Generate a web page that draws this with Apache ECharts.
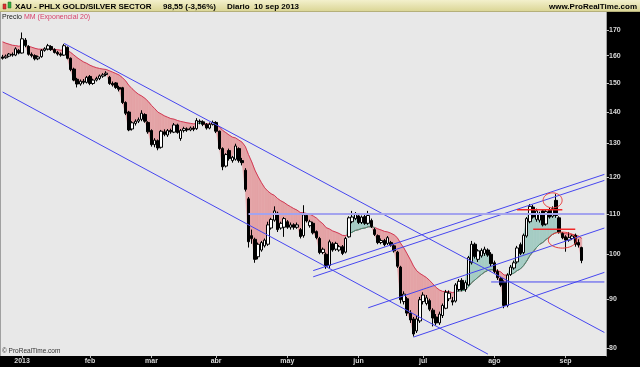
<!DOCTYPE html>
<html><head><meta charset="utf-8">
<script src="https://cdn.jsdelivr.net/npm/echarts@6/dist/echarts.min.js"></script>
<style>html,body{margin:0;padding:0;background:#000}#c{width:640px;height:367px}</style>
</head><body><div id="c"></div>
<script>
// ---------- data ----------
const startDate = '2012-12-21';
const endDate = '2013-09-10';
const holidays = ['2012-12-25','2013-01-01','2013-01-21','2013-02-18','2013-03-29','2013-05-27','2013-07-04','2013-09-02'];
const emptySlots = 7;
const monthNames = ['2013','feb','mar','abr','may','jun','jul','ago','sep','oct','nov','dic'];
const yTicks = [80,90,100,110,120,130,140,150,160,170];
const emaPeriod = 20;
const emaStart = 165.3;

// [open, close, low, high]
const dec12 = [[159.5,159.0,158.5,160.3],[159.2,159.8,158.8,160.4],[159.8,160.6,159.4,161.0],[160.5,160.2,159.6,161.2],[160.2,162.6,159.8,163.2],[162.0,161.0,160.5,162.5]];
const jan13 = [[161.0,166.5,160.8,169.0],[166.0,164.0,163.2,166.8],[163.5,160.5,160.0,164.0],[160.5,160.0,159.3,161.2],[160.0,158.8,158.2,160.5],[158.8,159.5,158.3,160.0],[159.6,162.0,159.2,162.5],[162.0,162.6,161.5,163.2],[162.5,163.8,162.0,164.5],[163.5,162.3,161.8,164.0],[162.3,161.2,160.8,162.8],[161.2,160.6,160.0,161.8],[160.6,160.2,159.6,161.2],[160.2,163.8,159.9,164.5],[163.2,159.0,158.6,163.5],[159.0,154.8,154.2,159.3],[155.0,151.0,150.6,155.5],[151.3,149.6,148.4,151.8],[149.6,150.6,149.0,151.2],[150.6,150.2,149.5,151.4],[150.2,152.0,149.8,152.5]];
const feb13 = [[152.3,149.8,149.2,152.8],[149.8,151.0,149.3,151.5],[151.0,151.6,150.5,152.2],[151.6,152.5,151.0,153.0],[152.4,152.9,151.8,153.5],[153.0,153.5,152.4,154.2],[152.0,149.8,149.3,152.5],[149.8,149.3,148.7,150.5],[150.0,148.4,147.9,150.3],[148.4,147.8,147.0,149.0],[148.3,143.2,142.7,148.6],[143.2,139.6,139.0,143.6],[140.0,134.2,133.8,140.4],[134.5,136.5,134.0,137.0],[136.3,137.0,135.6,137.6],[137.0,137.5,136.4,138.2],[137.6,139.6,137.0,140.6],[139.2,137.0,136.5,139.6],[136.6,133.6,133.0,137.0]];
const mar13 = [[134.0,129.6,129.0,134.4],[129.6,131.0,128.8,131.6],[130.8,128.6,127.9,131.2],[128.8,133.8,128.4,134.2],[133.6,132.8,132.2,134.4],[132.6,134.0,132.0,134.5],[134.0,133.6,133.0,134.6],[133.5,135.8,133.2,136.4],[135.8,133.4,133.0,136.2],[131.5,134.0,130.8,134.5],[134.0,134.6,133.4,135.2],[134.5,134.2,133.6,135.0],[134.2,134.8,133.8,135.3],[134.8,134.4,133.8,135.4],[134.6,137.2,134.2,138.0],[137.0,136.8,136.0,137.6],[136.8,136.0,135.4,137.3],[136.0,134.8,134.3,136.4],[134.8,136.0,134.4,136.6],[136.0,136.6,135.6,137.2]];
const apr13 = [[136.6,133.8,133.2,137.0],[133.8,128.4,128.0,134.0],[128.4,123.0,122.0,128.8],[123.2,126.6,122.8,127.0],[127.8,125.4,124.8,128.4],[124.8,125.8,124.2,126.2],[125.2,129.2,124.8,129.9],[128.4,124.8,124.2,128.8],[124.8,124.2,123.4,125.6],[122.0,116.6,116.0,122.6],[114.0,103.0,101.6,114.5],[104.5,103.8,102.5,106.0],[103.6,98.8,98.0,104.0],[99.4,102.4,98.8,102.8],[101.0,102.8,100.6,103.2],[102.0,103.4,101.6,103.8],[102.4,107.2,102.0,108.0],[106.4,108.6,106.0,109.0],[108.4,110.8,108.0,112.0],[110.2,106.0,105.4,110.6],[106.4,107.6,106.0,108.0],[106.6,108.8,104.2,109.2]];
const may13 = [[108.0,106.6,106.2,108.4],[106.6,107.2,106.0,107.8],[107.2,106.6,106.0,107.6],[106.6,107.2,106.2,107.8],[106.0,104.3,103.8,106.4],[104.5,109.8,104.0,112.3],[109.6,108.2,107.8,110.2],[107.0,108.0,106.5,108.5],[107.6,105.2,104.8,108.0],[105.5,104.0,103.6,105.8],[103.8,100.4,100.0,104.2],[100.4,101.2,100.0,101.6],[100.0,97.2,96.6,100.4],[97.4,103.0,96.8,103.5],[102.5,101.0,100.6,102.9],[101.2,102.6,100.8,103.0],[101.0,101.8,100.6,102.2],[101.8,100.2,99.8,102.2],[100.5,103.8,100.2,104.2],[104.2,109.0,104.0,109.4],[108.0,109.2,107.6,110.8],[108.8,110.0,108.4,110.5]];
const jun13 = [[109.5,107.8,107.4,110.2],[107.8,109.2,107.4,109.6],[109.3,107.6,107.2,109.8],[107.6,109.6,107.2,110.8],[108.3,106.8,106.4,108.8],[106.0,104.8,104.4,106.4],[104.5,102.8,102.4,104.8],[102.8,103.3,102.4,103.8],[103.3,102.3,101.9,103.7],[102.6,104.0,102.2,104.4],[102.8,102.2,101.8,103.2],[102.0,100.8,100.4,102.4],[100.5,97.2,96.8,100.8],[97.0,89.8,89.0,97.3],[89.4,91.0,88.8,91.6],[90.0,87.0,86.4,90.4],[87.0,85.6,85.0,87.6],[85.8,82.8,82.3,86.2],[83.4,85.8,83.0,86.4],[85.4,89.8,85.0,90.4]];
const jul13 = [[89.4,90.8,88.8,91.4],[89.0,90.2,88.6,90.8],[89.6,87.8,87.4,90.0],[87.6,86.0,84.3,88.0],[86.2,85.0,84.5,86.8],[85.0,86.8,84.6,87.3],[86.5,88.6,86.0,89.0],[88.0,91.4,87.8,91.9],[90.0,91.2,89.5,91.8],[89.6,89.3,88.6,90.4],[89.5,93.0,89.2,93.4],[92.0,93.8,91.6,94.3],[94.0,92.0,91.6,94.5],[92.0,93.5,91.5,94.0],[93.0,99.2,92.8,99.6],[98.0,102.4,97.6,103.2],[102.4,99.5,99.0,102.8],[98.8,100.8,98.2,101.2],[99.6,100.9,99.2,101.4],[100.2,101.2,99.6,101.8],[101.0,99.8,99.4,101.4],[100.0,97.8,97.2,100.5]];
const aug13 = [[98.0,96.0,95.6,98.5],[96.0,94.6,94.1,96.5],[94.4,93.0,92.6,94.8],[93.6,88.6,88.0,94.0],[88.6,95.2,88.2,95.6],[95.3,97.0,95.0,97.5],[96.8,98.0,96.4,98.5],[98.2,101.5,97.8,102.0],[102.3,100.2,99.8,102.8],[100.4,104.6,100.0,105.0],[104.4,108.8,104.0,109.2],[108.0,112.0,107.6,112.6],[111.8,109.2,108.8,112.4],[108.6,110.8,108.0,111.4],[108.4,110.0,107.8,110.6],[110.8,107.2,106.8,111.2],[107.4,110.6,107.0,111.2],[111.0,109.2,108.8,111.6],[109.4,111.4,109.0,112.0],[113.6,109.6,109.0,115.3],[109.0,105.4,105.0,109.4],[105.0,104.0,103.6,105.4]];
const sep13 = [[104.2,103.4,100.6,104.6],[103.4,104.0,103.0,105.4],[103.8,104.4,103.4,104.8],[104.6,102.4,101.8,105.0],[102.8,102.19,101.6,103.6],[101.6,98.55,97.9,101.8]];

// drawings: [categoryIndex, price]
const lineA = [[0,146.8],[150,78.95]];
const lineB = [[19,164.7],[186,83.1]];
const lineC1 = [[96,96.2],[186,120.8]];
const lineC2 = [[96,94.8],[186,119.1]];
const lineD = [[113,88.1],[186,106.4]];
const lineE = [[127,82.2],[186,95.8]];
const level94 = [[151,93.65],[186,93.65]];
const level110 = [[76,110.0],[186,110.0]];
const redLevel1 = [[159,111.1],[173,111.1]];
const redLevel2 = [[164,106.1],[177,106.1]];
const ellipseCenters = [[170,113.6],[173,103.4]];

// ---------- build ----------
const ohlc = [].concat(dec12,jan13,feb13,mar13,apr13,may13,jun13,jul13,aug13,sep13);
function tradingDays(){
  const out=[]; let t=Date.parse(startDate+'T00:00:00Z'); const end=Date.parse(endDate+'T00:00:00Z');
  while(t<=end){ const d=new Date(t); const wd=d.getUTCDay(); const s=d.toISOString().slice(0,10);
    if(wd!==0&&wd!==6&&holidays.indexOf(s)<0) out.push(s); t+=86400000; }
  return out;
}
const dates = tradingDays();
const cats = dates.slice();
for(let i=0;i<emptySlots;i++) cats.push('pad'+i);
const labelIdx = {};
for(let i=1;i<dates.length;i++){
  const m=+dates[i].slice(5,7), pm=+dates[i-1].slice(5,7);
  if(m!==pm) labelIdx[i]=monthNames[m-1];
}
const closes = ohlc.map(d=>d[1]);
const alpha = 2/(emaPeriod+1);
const ema=[]; ema[0]=emaStart;
for(let k=1;k<closes.length;k++) ema[k]=ema[k-1]+alpha*(closes[k]-ema[k-1]);
const up = closes.map((c,k)=>c>ema[k]);
const emaGreen = ema.map((v,k)=> (up[k]||(k>0&&up[k-1])) ? v : null);
const fillData=[];
for(let k=0;k<closes.length-1;k++) fillData.push([k,closes[k],closes[k+1],ema[k],ema[k+1]]);

const GREEN='#a5ccc4', RED='#e4a3a6';
function renderFill(params, api){
  const k=api.value(0);
  const c0=api.coord([k,api.value(1)]), c1=api.coord([k+1,api.value(2)]);
  const e0=api.coord([k,api.value(3)]), e1=api.coord([k+1,api.value(4)]);
  const d0=e0[1]-c0[1], d1=e1[1]-c1[1];
  const poly=(pts,col)=>({type:'polygon',shape:{points:pts},style:{fill:col,stroke:col,lineWidth:0.6}});
  if(d0*d1>=0){ return poly([c0,c1,e1,e0],(d0+d1)>0?GREEN:RED); }
  const t=d0/(d0-d1); const p=[c0[0]+t*(c1[0]-c0[0]), c0[1]+t*(c1[1]-c0[1])];
  return {type:'group',children:[poly([c0,p,e0],d0>0?GREEN:RED),poly([p,c1,e1],d1>0?GREEN:RED)]};
}
function renderEllipse(params, api){
  const c=api.coord([api.value(0),api.value(1)]);
  const rx = params.dataIndex===0?9.5:14, ry = params.dataIndex===0?7.5:8;
  const pts=[]; for(let i=0;i<48;i++){const a=i/48*Math.PI*2; pts.push([c[0]+rx*Math.cos(a), c[1]+ry*Math.sin(a)]);}
  return {type:'polygon',shape:{points:pts},style:{fill:'none',stroke:'#e83c3c',lineWidth:1}};
}
function mkLine(data,color,width,z){
  return {type:'line',data:data,symbol:'none',silent:true,clip:true,z:z,animation:false,
    lineStyle:{color:color,width:width}};
}
const showLabel=(i)=>labelIdx[i]!==undefined;

const chart = echarts.init(document.getElementById('c'),null,{renderer:'canvas'});
chart.setOption({
  animation:false,
  backgroundColor:'#000000',
  grid:{left:1,right:34,top:12,bottom:11,show:true,backgroundColor:'#e8e8e8',borderWidth:0},
  xAxis:{type:'category',data:cats,boundaryGap:true,
    axisLine:{show:false},
    axisTick:{show:true,alignWithLabel:true,interval:(i)=>showLabel(i),length:2,lineStyle:{color:'#bdbdbd'}},
    axisLabel:{interval:(i)=>showLabel(i),formatter:(v,i)=>labelIdx[i]||'',align:'center',margin:2,
      color:'#d8d8d8',fontSize:7,fontWeight:'bold',fontFamily:'Liberation Sans'},
    splitLine:{show:false}},
  yAxis:{type:'log',logBase:10,position:'right',min:78.6,max:177.4,
    axisLine:{show:true,lineStyle:{color:'#a0a0a0'}},
    axisTick:{show:true,length:3,customValues:yTicks,lineStyle:{color:'#c0c0c0'}},
    axisLabel:{customValues:yTicks,color:'#d8d8d8',fontSize:7,fontWeight:'bold',margin:3,fontFamily:'Liberation Sans'},
    splitLine:{show:false}},
  series:[
    {type:'custom',renderItem:renderFill,data:fillData,encode:{x:0,y:[1,2,3,4]},z:1,silent:true},
    {type:'line',data:ema,symbol:'none',z:2,silent:true,lineStyle:{color:'#d23a55',width:1}},
    {type:'line',data:emaGreen,symbol:'none',z:2,silent:true,connectNulls:false,lineStyle:{color:'#3a9a7a',width:1}},
    {type:'candlestick',data:ohlc,z:3,barWidth:3,silent:true,
      itemStyle:{color:'#ffffff',color0:'#000000',borderColor:'#000000',borderColor0:'#000000',borderWidth:1}},
    mkLine(lineA,'#4646f0',1,4),
    mkLine(lineB,'#4646f0',1,4),
    mkLine(lineC1,'#4646f0',1,4),
    mkLine(lineC2,'#4646f0',1,4),
    mkLine(lineD,'#4646f0',1,4),
    mkLine(lineE,'#4646f0',1,4),
    mkLine(level94,'#4646f0',1,4),
    mkLine(level110,'#a3a3ee',2,4),
    mkLine(redLevel1,'#f02828',1.5,5),
    mkLine(redLevel2,'#f02828',1.5,5),
    {type:'custom',renderItem:renderEllipse,data:ellipseCenters,encode:{x:0,y:1},z:6,silent:true}
  ],
  graphic:[
    {type:'rect',shape:{x:0,y:0,width:640,height:12},z:100,
      style:{fill:new echarts.graphic.LinearGradient(0,0,0,1,[{offset:0,color:'#f3f0cc'},{offset:1,color:'#d9d492'}])}},
    {type:'rect',shape:{x:0,y:11,width:640,height:1},z:101,style:{fill:'#b5b07a'}},
    {type:'rect',shape:{x:0,y:12,width:1,height:344},z:101,style:{fill:'#a0a0a0'}},
    {type:'rect',shape:{x:3,y:4,width:3,height:5},z:101,style:{fill:'#e03030',stroke:'#802020',lineWidth:0.5}},
    {type:'rect',shape:{x:8,y:2,width:3,height:6},z:101,style:{fill:'#30b040',stroke:'#206020',lineWidth:0.5}},
    {type:'text',x:15,y:6.5,z:102,style:{text:'XAU - PHLX GOLD/SILVER SECTOR',font:'bold 8px "Liberation Sans"',fill:'#000',verticalAlign:'middle'}},
    {type:'text',x:163,y:6.5,z:102,style:{text:'98,55 (-3,56%)',font:'bold 8px "Liberation Sans"',fill:'#000',verticalAlign:'middle'}},
    {type:'text',x:227,y:6.5,z:102,style:{text:'Diario  10 sep 2013',font:'bold 8px "Liberation Sans"',fill:'#000',verticalAlign:'middle'}},
    {type:'text',x:637,y:6.5,z:102,style:{text:'www.ProRealTime.com',font:'bold 8px "Liberation Sans"',fill:'#000',align:'right',verticalAlign:'middle'}},
    {type:'text',x:2,y:17.5,z:102,style:{text:'Precio',font:'7px "Liberation Sans"',fill:'#222',verticalAlign:'middle'}},
    {type:'text',x:24,y:17.5,z:102,style:{text:'MM (Exponencial 20)',font:'7px "Liberation Sans"',fill:'#d8406a',verticalAlign:'middle'}},
    {type:'text',x:2,y:351,z:102,style:{text:'\u00a9 ProRealTime.com',font:'6.5px "Liberation Sans"',fill:'#333',verticalAlign:'middle'}}
  ]
});
</script></body></html>
